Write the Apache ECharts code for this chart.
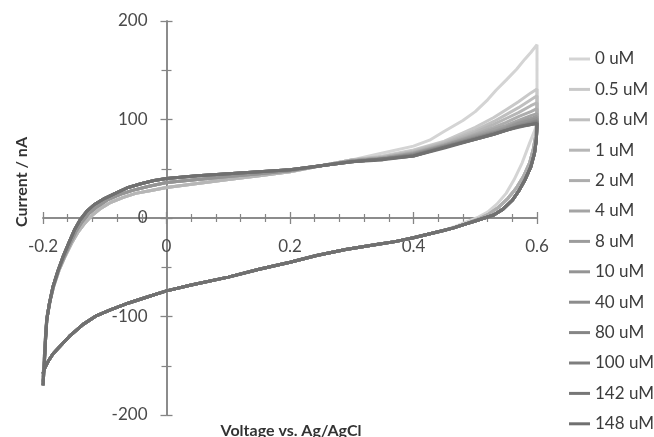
<!DOCTYPE html>
<html>
<head>
<meta charset="utf-8">
<script src="https://cdn.jsdelivr.net/npm/echarts@6/dist/echarts.min.js"></script>
<style>
  html, body { margin: 0; padding: 0; background: #fff; }
  #chart { width: 654px; height: 437px; }
</style>
</head>
<body>
<div id="chart"></div>
<script>
// legend names and grey shades, light to dark
var names = ['0 uM', '0.5 uM', '0.8 uM', '1 uM', '2 uM', '4 uM', '8 uM', '10 uM', '40 uM', '80 uM', '100 uM', '142 uM', '148 uM'];
var colors = ['#d4d4d4', '#c9c9c9', '#bfbfbf', '#b6b6b6', '#adadad', '#a4a4a4', '#9c9c9c', '#949494', '#8c8c8c', '#858585', '#7e7e7e', '#777777', '#707070'];

var xTicks = [-0.2, 0, 0.2, 0.4, 0.6];
var yTicks = [-200, -100, 0, 100, 200];

// forward scan, left part (-0.2 .. 0.3), three groups
var upperLight = [[-0.2, -162], [-0.198, -142], [-0.196, -120], [-0.193, -100], [-0.188, -83], [-0.182, -68], [-0.174, -53], [-0.165, -40], [-0.154, -26], [-0.143, -14], [-0.132, -5], [-0.12, 3], [-0.106, 10], [-0.09, 16], [-0.07, 21], [-0.05, 25], [-0.025, 28], [0, 31], [0.05, 35], [0.1, 39], [0.15, 43], [0.2, 47], [0.25, 53], [0.3, 59]];
var upperMid = [[-0.2, -166], [-0.198, -146], [-0.196, -122], [-0.194, -102], [-0.189, -85], [-0.183, -69], [-0.175, -53], [-0.166, -40], [-0.156, -26], [-0.147, -14], [-0.137, -4], [-0.125, 5], [-0.111, 12], [-0.094, 19], [-0.075, 24], [-0.055, 28], [-0.03, 32], [0, 36], [0.05, 39], [0.1, 42], [0.15, 45], [0.2, 48], [0.25, 53], [0.3, 58]];
var upperDark = [[-0.2, -170], [-0.198, -150], [-0.196, -125], [-0.194, -104], [-0.19, -88], [-0.184, -70], [-0.176, -54], [-0.168, -40], [-0.158, -25], [-0.149, -12], [-0.14, -2], [-0.129, 7], [-0.116, 14], [-0.1, 20], [-0.083, 25], [-0.062, 31], [-0.04, 35], [-0.02, 38], [0, 40], [0.05, 43], [0.1, 45], [0.15, 47], [0.2, 49], [0.25, 53], [0.3, 57]];

// forward scan, right part (0.35 .. 0.6), one per concentration
var upperRight = [
  [[0.35, 66], [0.4, 73], [0.426, 79], [0.45, 88], [0.48, 99], [0.5, 108], [0.52, 120], [0.534, 130], [0.55, 140], [0.567, 151], [0.58, 161], [0.59, 168], [0.6, 176]],
  [[0.35, 63], [0.4, 69], [0.45, 78], [0.5, 92], [0.53, 102], [0.55, 110], [0.57, 118], [0.59, 127], [0.6, 131]],
  [[0.35, 62], [0.4, 68], [0.45, 77], [0.5, 89], [0.53, 98], [0.55, 105], [0.57, 112], [0.59, 120], [0.6, 124]],
  [[0.35, 62], [0.4, 67], [0.45, 76], [0.5, 87], [0.53, 95], [0.55, 101], [0.57, 107], [0.59, 114], [0.6, 117]],
  [[0.35, 61], [0.4, 66], [0.45, 75], [0.5, 85], [0.53, 92], [0.55, 97], [0.57, 103], [0.59, 108], [0.6, 111]],
  [[0.35, 61], [0.4, 66], [0.45, 74], [0.5, 84], [0.53, 90], [0.55, 94], [0.57, 99], [0.59, 104], [0.6, 106]],
  [[0.35, 61], [0.4, 65], [0.45, 74], [0.5, 83], [0.53, 88], [0.55, 92], [0.57, 97], [0.59, 101], [0.6, 103]],
  [[0.35, 60], [0.4, 65], [0.45, 73], [0.5, 82], [0.53, 87], [0.55, 91], [0.57, 96], [0.59, 99], [0.6, 101]],
  [[0.35, 60], [0.4, 64], [0.45, 73], [0.5, 81], [0.53, 86], [0.55, 90], [0.57, 94], [0.59, 97], [0.6, 99]],
  [[0.35, 60], [0.4, 64], [0.45, 72], [0.5, 81], [0.53, 86], [0.55, 89], [0.57, 93], [0.59, 96], [0.6, 98]],
  [[0.35, 60], [0.4, 63], [0.45, 72], [0.5, 80], [0.53, 85], [0.55, 89], [0.57, 93], [0.59, 95], [0.6, 97]],
  [[0.35, 60], [0.4, 63], [0.45, 72], [0.5, 80], [0.53, 85], [0.55, 89], [0.57, 92], [0.59, 95], [0.6, 96]],
  [[0.35, 59], [0.4, 63], [0.45, 71], [0.5, 80], [0.53, 85], [0.56, 91], [0.58, 94], [0.6, 96]]
];

// reverse scan, right part (0.6 .. 0.447), three groups
var lowerRightLight = [[0.6, 100], [0.597, 90], [0.588, 76], [0.576, 56], [0.563, 39], [0.55, 25], [0.535, 14], [0.52, 6], [0.505, 1], [0.49, -3], [0.47, -8], [0.447, -13]];
var lowerRightMid = [[0.6, 98], [0.598, 84], [0.594, 70], [0.588, 56], [0.578, 42], [0.566, 30], [0.553, 20], [0.538, 11], [0.522, 4], [0.505, -1], [0.485, -6], [0.465, -10], [0.447, -13]];
var lowerRightDark = [[0.6, 94], [0.599, 80], [0.596, 66], [0.59, 52], [0.58, 38], [0.57, 27], [0.56, 18], [0.545, 9], [0.53, 3], [0.515, 0], [0.5, -3], [0.48, -7], [0.465, -10], [0.447, -13]];

// reverse scan, shared part (0.42 .. -0.2)
var lowerLeft = [[0.42, -17], [0.4, -20], [0.37, -24], [0.34, -27], [0.29, -32], [0.243, -38], [0.2, -45], [0.15, -52], [0.1, -60], [0.04, -68], [0, -74], [-0.03, -80], [-0.06, -86], [-0.09, -93], [-0.113, -99], [-0.135, -108], [-0.157, -120], [-0.172, -130], [-0.184, -138], [-0.192, -146], [-0.197, -152], [-0.2, -158]];

var upperGroup = [upperLight, upperLight, upperLight, upperLight, upperMid, upperMid, upperMid, upperMid, upperDark, upperDark, upperDark, upperDark, upperDark];
var lowerGroup = [lowerRightLight, lowerRightMid, lowerRightMid, lowerRightMid, lowerRightMid, lowerRightDark, lowerRightDark, lowerRightDark, lowerRightDark, lowerRightDark, lowerRightDark, lowerRightDark, lowerRightDark];

window.onload = function() {
    var myChart = echarts.init(document.getElementById('chart'));
    var axisColor = '#858585';
    var font = 'Lato';

    // plot box in pixels
    var left = 43, right = 537, top = 21, bottom = 415;
    var zeroX = left + (0 - xTicks[0]) / (xTicks[4] - xTicks[0]) * (right - left);
    var zeroY = top + (yTicks[4] - 0) / (yTicks[4] - yTicks[0]) * (bottom - top);

    var series = names.map(function(name, i) {
        return {
            name: name,
            type: 'line',
            symbol: 'none',
            xAxisIndex: 0,
            yAxisIndex: 0,
            lineStyle: { color: colors[i], width: 3 },
            itemStyle: { color: colors[i] },
            data: upperGroup[i].concat(upperRight[i], lowerGroup[i], lowerLeft)
        };
    });

    function xAxis(pos, offset, labels) {
        return {
            type: 'value',
            position: pos,
            offset: offset,
            min: xTicks[0],
            max: xTicks[xTicks.length - 1],
            interval: 0.2,
            axisLine: { onZero: false, lineStyle: { color: axisColor, width: 1.5 } },
            axisTick: { show: true, length: 6, lineStyle: { color: axisColor, width: 1.3 } },
            minorTick: { show: true, splitNumber: 5, length: 4, lineStyle: { color: axisColor, width: 1.2 } },
            splitLine: { show: false },
            axisLabel: {
                show: labels,
                margin: 20,
                color: '#4a4a4a',
                fontFamily: font,
                fontSize: 17,
                formatter: function(v) { return String(Math.round(v * 10) / 10); }
            }
        };
    }

    function yAxis(pos, offset, labels) {
        return {
            type: 'value',
            position: pos,
            offset: offset,
            min: yTicks[0],
            max: yTicks[yTicks.length - 1],
            interval: 100,
            axisLine: { onZero: false, lineStyle: { color: axisColor, width: 1.5 } },
            axisTick: { show: true, length: 6, lineStyle: { color: axisColor, width: 1.3 } },
            minorTick: { show: true, splitNumber: 2, length: 5, lineStyle: { color: axisColor, width: 1.2 } },
            splitLine: { show: false },
            axisLabel: {
                show: labels,
                margin: 19,
                color: '#4a4a4a',
                fontFamily: font,
                fontSize: 17
            }
        };
    }

    var option = {
        animation: false,
        backgroundColor: '#ffffff',
        grid: { left: left, right: 654 - right, top: top, bottom: 437 - bottom, containLabel: false, outerBoundsMode: 'none' },
        legend: {
            orient: 'vertical',
            left: 564,
            top: 44,
            height: 400,
            icon: 'rect',
            itemWidth: 21,
            itemHeight: 3,
            itemGap: 10.4,
            data: names,
            textStyle: { color: '#3c3c3c', fontFamily: font, fontSize: 17, lineHeight: 20 }
        },
        xAxis: [
            xAxis('bottom', -(bottom - zeroY), true),
            xAxis('top', -(zeroY - top), false)
        ],
        yAxis: [
            yAxis('left', -(zeroX - left), true),
            yAxis('right', -(right - zeroX), false)
        ],
        graphic: [
            {
                type: 'text',
                x: 22,
                y: 182,
                rotation: Math.PI / 2,
                style: {
                    text: 'Current / nA',
                    font: 'bold 16px Lato',
                    fill: '#333',
                    textAlign: 'center',
                    textVerticalAlign: 'middle'
                }
            },
            {
                type: 'text',
                x: 291,
                y: 431,
                style: {
                    text: 'Voltage vs. Ag/AgCl',
                    font: 'bold 16px Lato',
                    fill: '#333',
                    textAlign: 'center',
                    textVerticalAlign: 'middle'
                }
            }
        ],
        series: series
    };

    myChart.setOption(option);
};
</script>
</body>
</html>
